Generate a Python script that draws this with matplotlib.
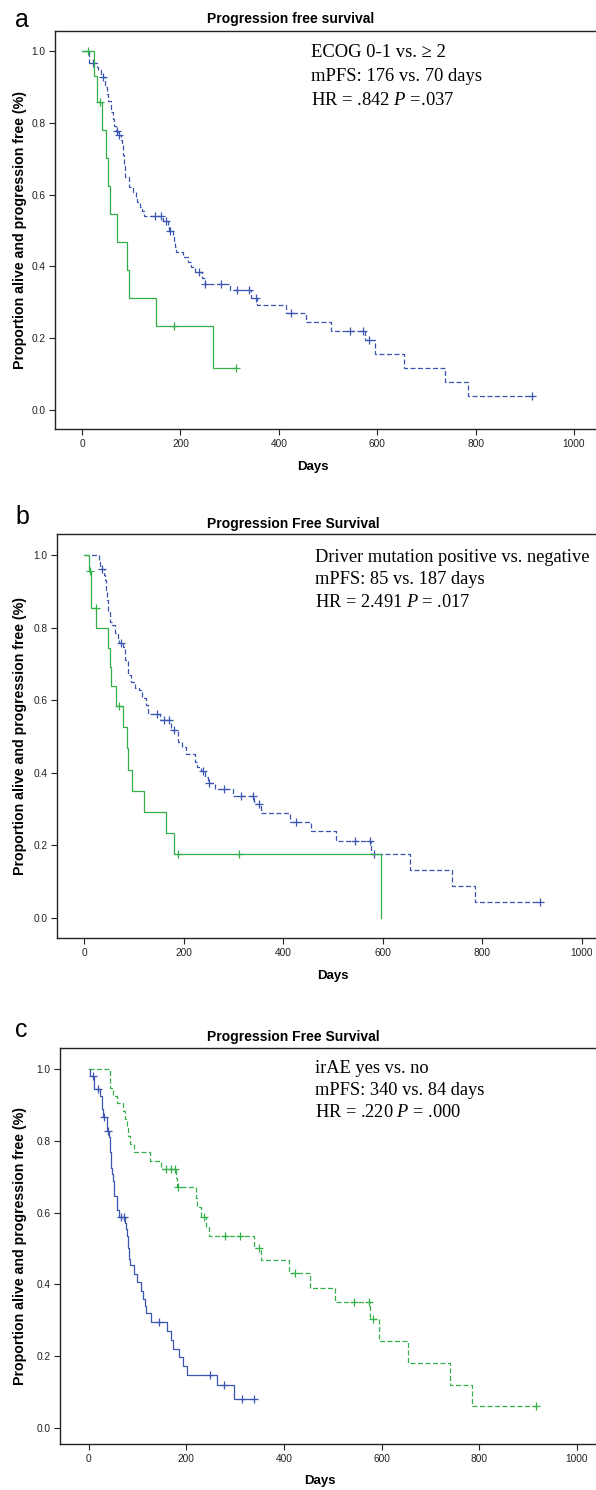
import numpy as np
import matplotlib
matplotlib.use("Agg")
import matplotlib.pyplot as plt

plt.rcParams["font.family"] = ["Liberation Sans", "DejaVu Sans"]
plt.rcParams["mathtext.fontset"] = "custom"
plt.rcParams["mathtext.rm"] = "Liberation Serif"
plt.rcParams["mathtext.it"] = "Liberation Serif:italic"

BLUE = "#3a56b0"
GREEN = "#34b04a"
W, H = 596, 1490

# ---------------- data: days / proportion progression free ----------------
# a: ECOG 0-1 (blue) vs >= 2 (green)
a_blue_t = [0, 15, 30, 33, 38, 46, 50, 53, 58, 62, 66, 69, 74, 80, 81, 83, 84, 85, 86, 87,
            88, 95, 104, 110, 112, 117, 122, 127, 165, 175, 177, 185, 187, 189, 191, 205,
            215, 222, 230, 243, 249, 300, 344, 356, 414, 455, 506, 575, 595, 654, 737, 784, 914]
a_blue_s = [1.0, 0.966, 0.956, 0.947, 0.928, 0.90, 0.88, 0.86, 0.83, 0.81, 0.79, 0.776, 0.766,
            0.752, 0.738, 0.724, 0.71, 0.695, 0.68, 0.665, 0.65, 0.622, 0.608, 0.594, 0.58,
            0.566, 0.553, 0.541, 0.527, 0.512, 0.50, 0.485, 0.47, 0.455, 0.441, 0.427, 0.413,
            0.399, 0.385, 0.368, 0.351, 0.333, 0.313, 0.292, 0.269, 0.245, 0.22, 0.195, 0.156,
            0.117, 0.078, 0.039, 0.039]
a_blue_cens = [23, 43, 71, 76, 148, 160, 171, 179, 238, 251, 282, 315, 339, 353, 424, 544,
               572, 583, 914]
a_green_t = [0, 24, 30, 41, 48, 53, 56, 72, 91, 95, 151, 266, 312]
a_green_s = [1.0, 0.929, 0.857, 0.779, 0.701, 0.623, 0.545, 0.468, 0.390, 0.312, 0.234, 0.117, 0.117]
a_green_cens = [12, 37, 188, 312]

# b: driver mutation negative (blue) vs positive (green)
b_blue_t = [0, 30, 33, 41, 42, 44, 46, 49, 52, 56, 62, 69, 71, 79, 82, 89, 94, 102, 111, 116,
            124, 129, 153, 175, 188, 196, 204, 223, 226, 234, 243, 248, 264, 299, 342, 356,
            413, 455, 506, 576, 655, 738, 785, 915]
b_blue_s = [1.0, 0.982, 0.961, 0.945, 0.931, 0.904, 0.876, 0.844, 0.816, 0.807, 0.784, 0.770,
            0.758, 0.747, 0.711, 0.669, 0.651, 0.633, 0.628, 0.605, 0.587, 0.562, 0.545, 0.517,
            0.485, 0.471, 0.453, 0.43, 0.416, 0.405, 0.388, 0.373, 0.356, 0.336, 0.315, 0.289,
            0.264, 0.239, 0.211, 0.175, 0.131, 0.087, 0.044, 0.044]
b_blue_cens = [37, 74, 147, 161, 171, 181, 238, 252, 281, 316, 340, 352, 425, 544, 574, 582, 915]
b_green_t = [0, 11, 14, 25, 49, 52, 55, 64, 79, 87, 89, 96, 120, 164, 181, 596]
b_green_s = [1.0, 0.955, 0.853, 0.80, 0.744, 0.692, 0.639, 0.583, 0.526, 0.468, 0.409, 0.35,
             0.292, 0.234, 0.175, 0.0]
b_green_cens = [13, 24, 71, 188, 312]

# c: irAE no (blue) vs yes (green)
c_blue_t = [0, 4, 12, 23, 27, 30, 38, 42, 43, 44, 46, 47, 48, 50, 53, 58, 62, 74, 76, 78, 80,
            81, 82, 83, 84, 93, 99, 108, 112, 115, 117, 127, 161, 168, 174, 185, 193, 202, 264,
            298, 339]
c_blue_s = [1.0, 0.98, 0.945, 0.925, 0.888, 0.867, 0.828, 0.81, 0.79, 0.77, 0.744, 0.724, 0.707,
            0.689, 0.647, 0.606, 0.587, 0.57, 0.553, 0.536, 0.519, 0.502, 0.486, 0.47, 0.453,
            0.43, 0.406, 0.383, 0.36, 0.34, 0.319, 0.295, 0.27, 0.246, 0.221, 0.198, 0.173,
            0.149, 0.12, 0.082, 0.082]
c_blue_cens = [9, 20, 32, 39, 67, 72, 144, 248, 277, 314, 339]
c_green_t = [0, 43, 44, 51, 59, 70, 75, 79, 81, 84, 93, 126, 148, 180, 182, 220, 222, 230, 240,
             247, 339, 354, 411, 453, 505, 576, 595, 655, 739, 786, 916]
c_green_s = [1.0, 0.976, 0.948, 0.925, 0.906, 0.883, 0.86, 0.836, 0.813, 0.79, 0.768, 0.744,
             0.721, 0.695, 0.67, 0.642, 0.615, 0.589, 0.561, 0.534, 0.502, 0.467, 0.431, 0.391,
             0.352, 0.303, 0.242, 0.182, 0.121, 0.061, 0.061]
c_green_cens = [159, 169, 177, 184, 236, 279, 311, 350, 423, 543, 575, 582, 916]

x_ticks = [0, 200, 400, 600, 800, 1000]
y_ticks = [0.0, 0.2, 0.4, 0.6, 0.8, 1.0]

titles = ["Progression free survival", "Progression Free Survival", "Progression Free Survival"]
notes = [
    ["ECOG 0-1 vs. \u2265 2", "mPFS: 176 vs. 70 days", "HR = .842 $P$ =.037"],
    ["Driver mutation positive vs. negative", "mPFS: 85 vs. 187 days", "HR = 2.491 $P$ = .017"],
    ["irAE yes vs. no", "mPFS: 340 vs. 84 days", "HR = .220 $P$ = .000"],
]
# ---------------------------------------------------------------------------

fig = plt.figure(figsize=(W / 100, H / 100), dpi=100)


def ftext(x, y, s, **kw):
    return fig.text(x / W, 1 - y / H, s, **kw)


def make_axes(left, top, bottom, y1, y0, x0, x1k):
    right = W + 20
    ax = fig.add_axes([left / W, 1 - bottom / H, (right - left) / W, (bottom - top) / H])
    ppd = (x1k - x0) / 1000.0
    ax.set_xlim((left - x0) / ppd, (right - x0) / ppd)
    ppu = y0 - y1
    ax.set_ylim(-(bottom - y0) / ppu, 1 + (y1 - top) / ppu)
    ax.spines["right"].set_visible(False)
    for sp in ("left", "top", "bottom"):
        ax.spines[sp].set_linewidth(1.0)
        ax.spines[sp].set_color("#222222")
    ax.set_xticks(x_ticks)
    ax.set_yticks(y_ticks)
    ax.set_yticklabels(["%.1f" % v for v in y_ticks])
    ax.tick_params(labelsize=7.3, length=4, width=0.8, colors="#222222", pad=3)
    return ax


def km(ax, t, s, cens, color, dashed):
    ls = (0, (4, 2)) if dashed else "-"
    ax.step(t, s, where="post", color=color, lw=0.9, linestyle=ls)
    t = np.asarray(t)
    cs = [s[np.searchsorted(t, c, side="right") - 1] for c in cens]
    ax.plot(cens, cs, "+", color=color, ms=6, mew=0.9)


# geometry in pixels: left, top, bottom, y(1.0), y(0.0), x(0), x(1000)
geo = [
    (55, 31, 429, 51, 410, 82, 574),
    (57, 534, 938, 555, 918, 84, 582),
    (60, 1048, 1444, 1069, 1428, 88.5, 577),
]
curves = [
    ((a_blue_t, a_blue_s, a_blue_cens, True), (a_green_t, a_green_s, a_green_cens, False)),
    ((b_blue_t, b_blue_s, b_blue_cens, True), (b_green_t, b_green_s, b_green_cens, False)),
    ((c_blue_t, c_blue_s, c_blue_cens, False), (c_green_t, c_green_s, c_green_cens, True)),
]
letters = ["a", "b", "c"]
letter_y = [20, 517, 1030]
title_y = [19.5, 523.5, 1036.5]
days_xy = [(313, 467), (333, 976), (320, 1481)]
note_x = [311, 315, 315]
note_y = [[57, 81, 105], [562.5, 584.5, 606.5], [1073, 1095, 1117]]
note_size = [13.4, 13.2, 13.2]

for i in range(3):
    g = geo[i]
    ax = make_axes(*g)
    blue, green = curves[i]
    km(ax, blue[0], blue[1], blue[2], BLUE, blue[3])
    km(ax, green[0], green[1], green[2], GREEN, green[3])

    ftext(15, letter_y[i], letters[i], fontsize=18, ha="left", va="center")
    ftext(207, title_y[i], titles[i], fontsize=10, fontweight="bold", ha="left", va="center")
    ftext(20, (g[1] + g[2]) / 2, "Proportion alive and progression free (%)", fontsize=10.2,
          fontweight="bold", rotation=90, ha="center", va="center")
    ftext(days_xy[i][0], days_xy[i][1], "Days", fontsize=9.5, fontweight="bold",
          ha="center", va="center")
    for line, yy in zip(notes[i], note_y[i]):
        ftext(note_x[i], yy, line, fontsize=note_size[i], ha="left", va="baseline",
              family=["Liberation Serif", "DejaVu Serif"])

fig.savefig("out.png", dpi=100)
